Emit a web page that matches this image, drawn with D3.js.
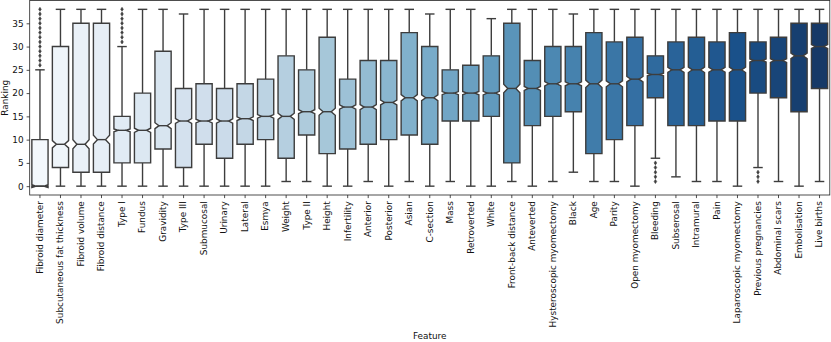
<!DOCTYPE html>
<html>
<head>
<meta charset="utf-8">
<script src="https://cdn.jsdelivr.net/npm/d3@7"></script>
<style>
  body { margin: 0; background: #fff; }
  text { font-family: "DejaVu Sans", sans-serif; }
</style>
</head>
<body>
<div id="chart"></div>
<script>
var features = ["Fibroid diameter", "Subcutaneous fat thickness", "Fibroid volume", "Fibroid distance",
    "Type I", "Fundus", "Gravidity", "Type III", "Submucosal", "Urinary", "Lateral", "Esmya",
    "Weight", "Type II", "Height", "Infertility", "Anterior", "Posterior", "Asian", "C-section",
    "Mass", "Retroverted", "White", "Front-back distance", "Anteverted", "Hysteroscopic myomectomy",
    "Black", "Age", "Parity", "Open myomectomy", "Bleeding", "Subserosal", "Intramural", "Pain",
    "Laparoscopic myomectomy", "Previous pregnancies", "Abdominal scars", "Embolisation", "Live births"];

var q1      = [0, 4, 3, 3, 5, 5, 8, 4, 9, 6, 9, 10, 6, 11, 7, 8, 9, 10, 11, 9, 14, 14, 15, 5, 13, 15, 16, 7, 10, 13, 19, 13, 13, 14, 14, 20, 19, 16, 21];
var medians = [0, 9, 9, 10, 12, 12, 13, 14, 14, 14, 14.5, 15, 15, 16, 16, 17, 17, 18, 19, 19, 20, 20, 20, 21, 21, 22, 22, 22, 22, 23, 24, 25, 25, 25, 25, 27, 27, 28, 30];
var q3      = [10, 30, 35, 35, 15, 20, 29, 21, 22, 21, 22, 23, 28, 25, 32, 23, 27, 27, 33, 30, 25, 26, 28, 35, 27, 30, 30, 33, 31, 32, 28, 31, 32, 31, 33, 31, 32, 35, 35];
var whiskLo = [0, 0, 0, 0, 0, 0, 0, 0, 0, 0, 0, 0, 1, 1, 0, 0, 1, 0, 1, 0, 1, 0, 0, 1, 0, 1, 3, 1, 1, 0, 6, 2, 1, 1, 0, 4, 1, 0, 1];
var whiskHi = [25, 38, 38, 38, 30, 38, 38, 37, 38, 38, 38, 38, 38, 38, 38, 38, 38, 38, 38, 37, 38, 38, 36, 38, 38, 38, 37, 38, 38, 38, 38, 38, 38, 38, 38, 38, 38, 38, 38];
var fliers = {
    "Fibroid diameter": [26, 27, 28, 29, 30, 31, 32, 33, 34, 35, 36, 37, 38],
    "Type I": [31, 32, 33, 34, 35, 36, 37, 38],
    "Bleeding": [1, 2, 3, 4, 5],
    "Previous pregnancies": [1, 2, 3]
};
var nObs = 2700;
var yTicks = [0, 5, 10, 15, 20, 25, 30, 35];

var width = 831, height = 342;
var margin = {left: 29.7, right: 1.2, top: 0.5, bottom: 147};
var lineColor = "#3d3d3d";
var fontSize = "8.9px";

var svg = d3.select("#chart").append("svg")
    .attr("width", width)
    .attr("height", height);

var x = d3.scaleBand()
    .domain(features)
    .range([margin.left, width - margin.right]);

var y = d3.scaleLinear()
    .domain([-1.9, 39.9])
    .range([height - margin.bottom, margin.top]);

// seaborn style Blues palette, desaturated like boxplot does
var blues = ["#f7fbff", "#deebf7", "#c6dbef", "#9ecae1", "#6baed6", "#4292c6", "#2171b5", "#08519c", "#08306b"];
var cmap = d3.scaleLinear().domain(d3.range(9).map(function (i) { return i / 8; })).range(blues);
function boxColor(i) {
    var c = d3.hsl(cmap((i + 1) / (features.length + 1)));
    c.s = c.s * 0.75;
    return c.formatHex();
}

var bw = x.bandwidth() * 0.79;

var boxes = svg.append("g").selectAll("g")
    .data(features)
    .enter().append("g");

boxes.each(function (f, i) {
    var g = d3.select(this);
    var cx = x(f) + x.bandwidth() / 2;
    var left = cx - bw / 2, right = cx + bw / 2;
    var nl = cx - bw / 4, nr = cx + bw / 4;
    var notch = 1.57 * (q3[i] - q1[i]) / Math.sqrt(nObs);
    var lo = medians[i] - notch, hi = medians[i] + notch;

    // whiskers
    g.append("line")
        .attr("x1", cx).attr("x2", cx)
        .attr("y1", y(q1[i])).attr("y2", y(whiskLo[i]))
        .attr("stroke", lineColor).attr("stroke-width", 1.4);
    g.append("line")
        .attr("x1", cx).attr("x2", cx)
        .attr("y1", y(q3[i])).attr("y2", y(whiskHi[i]))
        .attr("stroke", lineColor).attr("stroke-width", 1.4);
    // caps
    [whiskLo[i], whiskHi[i]].forEach(function (v) {
        g.append("line")
            .attr("x1", nl).attr("x2", nr)
            .attr("y1", y(v)).attr("y2", y(v))
            .attr("stroke", lineColor).attr("stroke-width", 1.4)
            .attr("stroke-linecap", "square");
    });

    // notched box
    var pts = [[left, q1[i]], [right, q1[i]], [right, lo], [nr, medians[i]], [right, hi], [right, q3[i]],
        [left, q3[i]], [left, hi], [nl, medians[i]], [left, lo], [left, q1[i]]];
    g.append("path")
        .attr("d", d3.line().x(function (d) { return d[0]; }).y(function (d) { return y(d[1]); })(pts) + "Z")
        .attr("fill", boxColor(i))
        .attr("stroke", lineColor)
        .attr("stroke-width", 1.4)
        .attr("stroke-linejoin", "miter");

    // median
    g.append("line")
        .attr("x1", nl).attr("x2", nr)
        .attr("y1", y(medians[i])).attr("y2", y(medians[i]))
        .attr("stroke", lineColor).attr("stroke-width", 1.4);

    // outliers
    (fliers[f] || []).forEach(function (v) {
        g.append("path")
            .attr("transform", "translate(" + cx + "," + y(v) + ")")
            .attr("d", "M0,-2L1.3,0L0,2L-1.3,0Z")
            .attr("fill", lineColor)
            .attr("stroke", lineColor)
            .attr("stroke-width", 0.6);
    });
});

// frame
svg.append("rect")
    .attr("x", margin.left)
    .attr("y", margin.top)
    .attr("width", width - margin.right - margin.left)
    .attr("height", height - margin.bottom - margin.top)
    .attr("fill", "none")
    .attr("stroke", "#222")
    .attr("stroke-width", 0.8);

// Y axis
var yAxis = svg.append("g")
    .attr("transform", "translate(" + margin.left + ",0)")
    .call(d3.axisLeft(y).tickValues(yTicks).tickSize(3.1).tickPadding(3));
yAxis.select(".domain").remove();
yAxis.selectAll("line").attr("stroke", "#222").attr("stroke-width", 0.8);
yAxis.selectAll("text")
    .style("font-size", fontSize)
    .style("font-family", "DejaVu Sans")
    .attr("fill", "#111");

// X axis
var xAxis = svg.append("g")
    .attr("transform", "translate(0," + (height - margin.bottom) + ")")
    .call(d3.axisBottom(x).tickSize(3.1).tickPadding(3));
xAxis.select(".domain").remove();
xAxis.selectAll("line").attr("stroke", "#222").attr("stroke-width", 0.8);
xAxis.selectAll("text")
    .style("font-size", fontSize)
    .style("font-family", "DejaVu Sans")
    .attr("fill", "#111")
    .attr("transform", "rotate(-90)")
    .attr("x", -6.2)
    .attr("y", 0)
    .attr("dy", "0.32em")
    .style("text-anchor", "end");

// labels
svg.append("text")
    .attr("x", (margin.left + width - margin.right) / 2)
    .attr("y", 339)
    .attr("text-anchor", "middle")
    .style("font-size", fontSize)
    .attr("fill", "#111")
    .text("Feature");

svg.append("text")
    .attr("transform", "rotate(-90)")
    .attr("x", -(margin.top + height - margin.bottom) / 2)
    .attr("y", 8)
    .attr("text-anchor", "middle")
    .style("font-size", fontSize)
    .attr("fill", "#111")
    .text("Ranking");
</script>
</body>
</html>
